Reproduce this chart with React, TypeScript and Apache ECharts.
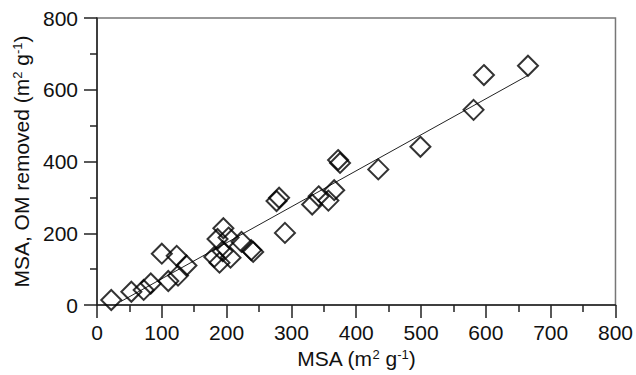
import React, { useEffect, useRef } from "react";
import * as echarts from "echarts";

// MSA (m2 g-1) of each sample
const msa = [
  22, 53, 72, 83, 100, 110, 123, 125, 138,
  181, 186, 189, 194, 195, 203, 206, 223, 238, 241,
  277, 281, 290, 332, 342, 357, 366, 372, 375, 434, 499, 581, 597, 665,
];
// MSA after organic matter removal (m2 g-1)
const msaOmRemoved = [
  14, 37, 42, 60, 143, 67, 137, 82, 110,
  134, 184, 118, 150, 214, 188, 132, 176, 153, 148,
  290, 299, 201, 280, 303, 291, 320, 404, 396, 378, 441, 544, 641, 667,
];
// fitted regression line end points
const fitX = [37, 665];
const fitY = [10, 640];

const FONT = "'Liberation Sans', Arial, Helvetica, sans-serif";

export default function App() {
  const ref = useRef<HTMLDivElement>(null);
  useEffect(() => {
    if (!ref.current) return;
    const chart = echarts.init(ref.current, undefined, { renderer: "svg" });
    const axisColor = "#222";
    const supRich = {
      sup: { fontSize: 13, fontFamily: FONT, color: "#111", verticalAlign: "top", lineHeight: 12 },
    };
    chart.setOption({
      animation: false,
      backgroundColor: "#fff",
      grid: {
        left: 97,
        right: 17,
        top: 18,
        bottom: 70,
        show: true,
        borderColor: "#777",
        borderWidth: 1.5,
        containLabel: false,
      },
      xAxis: {
        type: "value",
        min: 0,
        max: 800,
        interval: 100,
        name: "MSA (m{sup|2} g{sup|-1})",
        nameLocation: "middle",
        nameGap: 40,
        nameTextStyle: { fontSize: 21, fontFamily: FONT, color: "#111", rich: supRich },
        axisLine: { show: true, onZero: false, lineStyle: { color: axisColor, width: 1.5 } },
        axisTick: { show: true, length: 13, lineStyle: { color: axisColor, width: 1.5 } },
        minorTick: { show: true, splitNumber: 2, length: 7, lineStyle: { color: axisColor, width: 1.5 } },
        splitLine: { show: false },
        minorSplitLine: { show: false },
        axisLabel: { fontSize: 21, fontFamily: FONT, color: "#111", margin: 17 },
      },
      yAxis: {
        type: "value",
        min: 0,
        max: 800,
        interval: 200,
        name: "MSA, OM removed (m{sup|2} g{sup|-1})",
        nameLocation: "middle",
        nameGap: 56,
        nameTextStyle: { fontSize: 21, fontFamily: FONT, color: "#111", rich: supRich },
        axisLine: { show: true, onZero: false, lineStyle: { color: axisColor, width: 1.5 } },
        axisTick: { show: true, length: 13, lineStyle: { color: axisColor, width: 1.5 } },
        minorTick: { show: true, splitNumber: 2, length: 7, lineStyle: { color: axisColor, width: 1.5 } },
        splitLine: { show: false },
        minorSplitLine: { show: false },
        axisLabel: { fontSize: 21, fontFamily: FONT, color: "#111", margin: 19 },
      },
      series: [
        {
          type: "line",
          data: fitX.map((x, i) => [x, fitY[i]]),
          symbol: "none",
          lineStyle: { color: "#222", width: 1 },
          z: 1,
        },
        {
          type: "scatter",
          data: msa.map((x, i) => [x, msaOmRemoved[i]]),
          symbol: "diamond",
          symbolSize: 20,
          itemStyle: { color: "rgba(255,255,255,0)", borderColor: "#000", borderWidth: 2 },
          z: 2,
        },
      ],
    });
    return () => chart.dispose();
  }, []);
  return (
    <div
      ref={ref}
      style={{ position: "absolute", left: 0, top: 0, width: 636, height: 375 }}
    />
  );
}
